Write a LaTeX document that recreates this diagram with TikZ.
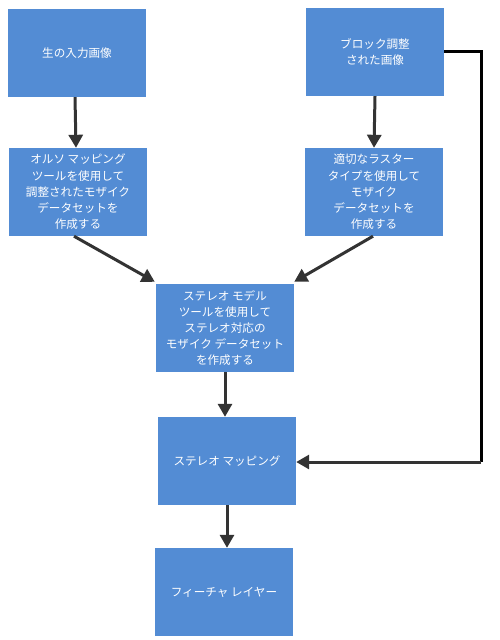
\documentclass[tikz,border=0pt]{standalone}
\usepackage{fontspec}
\setmainfont{Noto Sans CJK JP}
\usetikzlibrary{arrows.meta}
\definecolor{boxblue}{HTML}{538CD4}
\definecolor{linedark}{HTML}{333333}
\tikzset{
  flowbox/.style={fill=boxblue, draw=none, minimum width=138pt, minimum height=88pt,
    inner sep=0pt, text=white, align=center,
    font=\fontsize{11.6pt}{16.2pt}\selectfont},
  flowarrow/.style={draw=linedark, line width=3pt, -{Triangle[width=14pt,length=13pt]}},
  flowline/.style={draw=black, line width=3pt}
}
\begin{document}
\begin{tikzpicture}[x=1pt,y=-1pt]
\useasboundingbox[fill=white] (0,0) rectangle (500,640);
\node[flowbox] (b1) at (77,53) {生の入力画像};
\node[flowbox] (b2) at (78,192) {オルソ マッピング\\ツールを使用して\\調整されたモザイク\\データセットを\\作成する};
\node[flowbox] (b3) at (375,52) {ブロック調整\\された画像};
\node[flowbox] (b4) at (374,192) {適切なラスター\\タイプを使用して\\モザイク\\データセットを\\作成する};
\node[flowbox] (b5) at (225,328) {ステレオ モデル\\ツールを使用して\\ステレオ対応の\\モザイク データセット\\を作成する};
\node[flowbox] (b6) at (227,461) {ステレオ マッピング};
\node[flowbox] (b7) at (224,592) {フィーチャ レイヤー};
\coordinate (c1) at (481,51);
\coordinate (c2) at (481,462);
\draw[flowarrow] ([xshift=-2pt]b1.south) -- ([xshift=-2pt]b2.north);
\draw[flowarrow] (b3.south) -- (b4.north);
\draw[flowarrow] ([xshift=-4pt]b2.south) -- ([xshift=-1pt,yshift=2pt]b5.north west);
\draw[flowarrow] ([xshift=-1pt]b4.south) -- ([xshift=0pt,yshift=2pt]b5.north east);
\draw[flowarrow] (b5.south) -- (b5.south |- b6.north);
\draw[flowarrow] (b6.south) -- (b6.south |- b7.north);
\draw[flowline] (b3.east |- c1) -- (c1) -- (c2);
\draw[flowarrow] (c2) -- (b6.east |- c2);
\end{tikzpicture}
\end{document}
